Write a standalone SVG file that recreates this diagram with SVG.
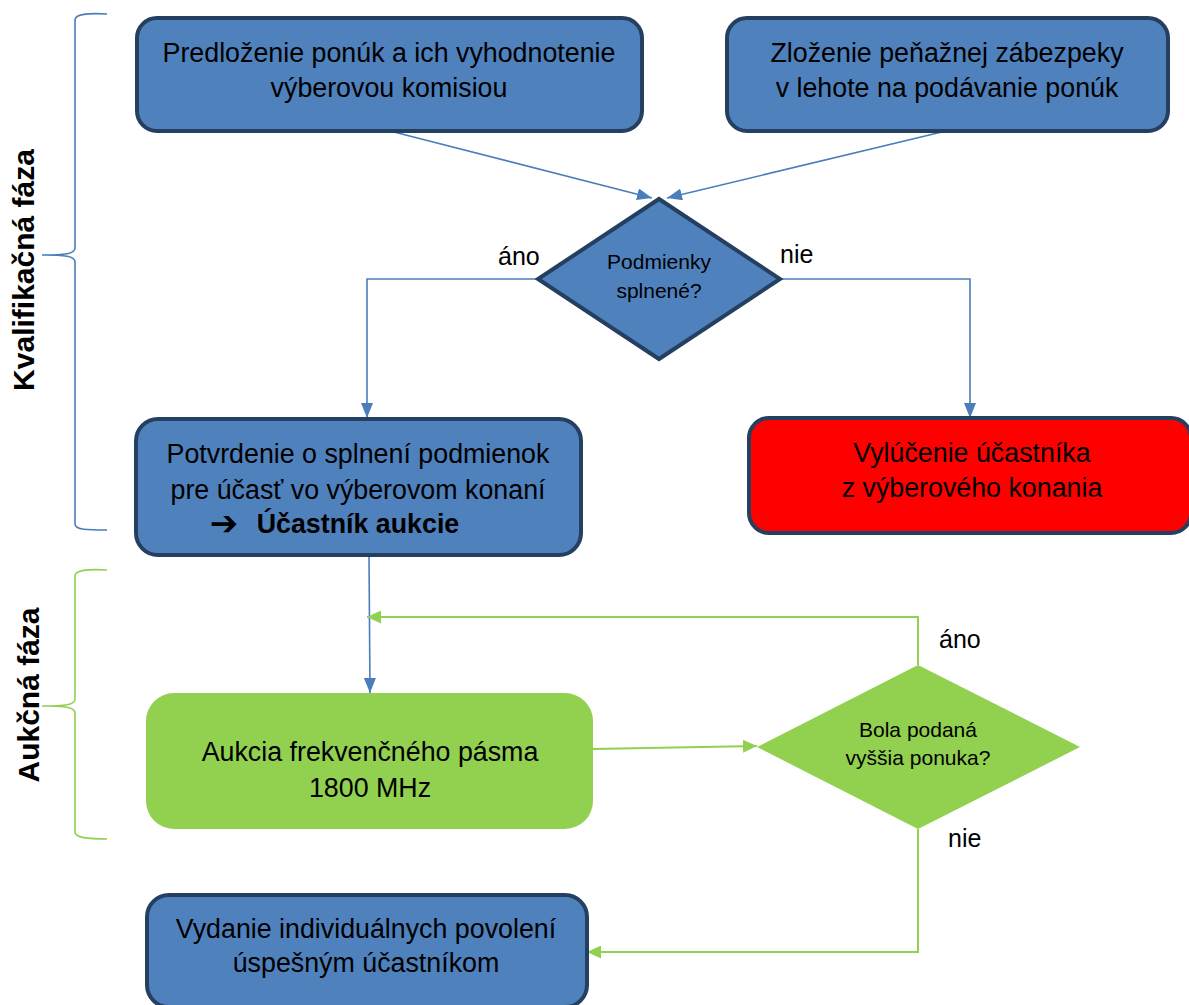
<svg xmlns="http://www.w3.org/2000/svg" width="1189" height="1005" viewBox="0 0 1189 1005">
<style>
.t{font-family:"Liberation Sans",Arial,sans-serif;font-size:26.8px;fill:#000;text-anchor:middle}
.s{font-size:21px}
.b{font-weight:bold}
.lbl{font-family:"Liberation Sans",Arial,sans-serif;font-size:25px;fill:#000}
.box{fill:#4f81bd;stroke:#243f60;stroke-width:4}
.red{fill:#ff0000;stroke:#243f60;stroke-width:4}
.gbox{fill:#92d050}
.bl{fill:none;stroke:#4a7ebb;stroke-width:1.6}
.gl{fill:none;stroke:#92d050;stroke-width:2}
</style>
<defs>
<marker id="abb" viewBox="0 0 10 10" refX="10" refY="5" markerWidth="15" markerHeight="12" markerUnits="userSpaceOnUse" orient="auto" preserveAspectRatio="none"><path d="M0,0L10,5L0,10z" fill="#4a7ebb"/></marker>
<marker id="ag" viewBox="0 0 10 10" refX="10" refY="5" markerWidth="14" markerHeight="13" markerUnits="userSpaceOnUse" orient="auto" preserveAspectRatio="none"><path d="M0,0L10,5L0,10z" fill="#92d050"/></marker>
</defs>

<g id="brace-kval">
<path d="M107,14 C88,13 75,14 75,20 L75,248 C75,254 65,255 42,255 C65,255 75,256 75,262 L75,524 C75,530 88,530 107,530" fill="none" stroke="#4a7ebb" stroke-width="1.6"/>
<text class="t b" style="font-size:30px" transform="translate(34,270) rotate(-90)">Kvalifikačná fáza</text>
</g>
<g id="brace-aukc">
<path d="M107,570 C88,569 75,570 75,576 L75,699 C75,705 65,706 42,706 C65,706 75,707 75,713 L75,832 C75,838 88,839 107,839" fill="none" stroke="#92d050" stroke-width="1.6"/>
<text class="t b" style="font-size:30px" transform="translate(39,695) rotate(-90)">Aukčná fáza</text>
</g>

<g id="connectors">
<line class="bl" x1="390" y1="131" x2="652" y2="198" marker-end="url(#abb)"/>
<line class="bl" x1="946" y1="131" x2="667" y2="198" marker-end="url(#abb)"/>
<polyline class="bl" points="538,279 367,279 367,418" marker-end="url(#abb)"/>
<polyline class="bl" points="780,279 970,279 970,418" marker-end="url(#abb)"/>
<line class="bl" x1="369" y1="555" x2="370" y2="693" marker-end="url(#abb)"/>
<line class="gl" x1="593" y1="749" x2="757" y2="746" marker-end="url(#ag)"/>
<polyline class="gl" points="918,665 918,617 367,617" marker-end="url(#ag)"/>
<polyline class="gl" points="918,829 918,952 587,952" marker-end="url(#ag)"/>
<text class="lbl" x="498" y="265">áno</text>
<text class="lbl" x="780" y="263">nie</text>
<text class="lbl" x="939" y="648">áno</text>
<text class="lbl" x="948" y="847">nie</text>
</g>

<g id="n-predlozenie">
<rect class="box" x="137" y="18" width="505" height="113" rx="20"/>
<text class="t" x="389" y="62">Predloženie ponúk a ich vyhodnotenie</text>
<text class="t" x="389" y="97">výberovou komisiou</text>
</g>
<g id="n-zlozenie">
<rect class="box" x="727" y="18" width="441" height="113" rx="20"/>
<text class="t" x="947" y="62">Zloženie peňažnej zábezpeky</text>
<text class="t" x="947" y="97">v lehote na podávanie ponúk</text>
</g>
<g id="n-podmienky">
<polygon class="box" points="659,199 780,279 659,359 538,279"/>
<text class="t s" x="659" y="269">Podmienky</text>
<text class="t s" x="659" y="298">splnené?</text>
</g>
<g id="n-potvrdenie">
<rect class="box" x="136" y="419" width="445" height="136" rx="22"/>
<text class="t" x="358" y="463">Potvrdenie o splnení podmienok</text>
<text class="t" x="358" y="499">pre účasť vo výberovom konaní</text>
<text class="t b" x="224" y="535" style="font-family:'DejaVu Sans',sans-serif;font-size:34px">➔</text>
<text class="t b" x="358" y="533">Účastník aukcie</text>
</g>
<g id="n-vylucenie">
<rect class="red" x="749" y="418" width="442" height="115" rx="20"/>
<text class="t" x="972" y="462">Vylúčenie účastníka</text>
<text class="t" x="972" y="497">z výberového konania</text>
</g>
<g id="n-aukcia">
<rect class="gbox" x="146" y="693" width="447" height="136" rx="28"/>
<text class="t" x="370" y="761">Aukcia frekvenčného pásma</text>
<text class="t" x="370" y="797">1800 MHz</text>
</g>
<g id="n-bola">
<polygon class="gbox" points="918,665 1080,747 918,829 757,747"/>
<text class="t s" x="918" y="737">Bola podaná</text>
<text class="t s" x="918" y="765">vyššia ponuka?</text>
</g>
<g id="n-vydanie">
<rect class="box" x="147" y="895" width="440" height="112" rx="22"/>
<text class="t" x="366" y="938">Vydanie individuálnych povolení</text>
<text class="t" x="366" y="972">úspešným účastníkom</text>
</g>
</svg>
